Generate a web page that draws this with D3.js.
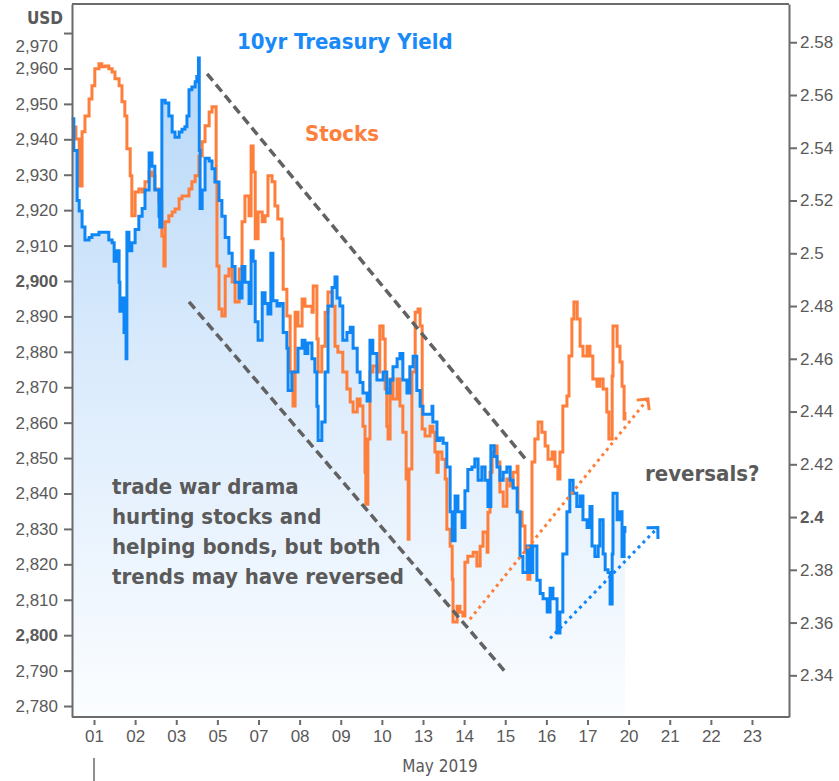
<!DOCTYPE html>
<html>
<head>
<meta charset="utf-8">
<script src="https://cdn.jsdelivr.net/npm/d3@7"></script>
<style>
  body { margin: 0; background: #fff; }
  svg { display: block; font-family: "DejaVu Sans Condensed", "DejaVu Sans", sans-serif; font-stretch: condensed; }
</style>
</head>
<body>
<div id="chart"></div>
<script>
//------------------------1. DATA-------------------------------//
// trading sessions shown on the x axis (index 0..16)
const dayLabels = ["01","02","03","05","07","08","09","10","13","14","15","16","17","20","21","22","23"];
const leftTicks = [2780,2790,2800,2810,2820,2830,2840,2850,2860,2870,2880,2890,2900,2910,2920,2930,2940,2950,2960,2970];
const rightTicks = ["2.34","2.36","2.38","2.4","2.42","2.44","2.46","2.48","2.5","2.52","2.54","2.56","2.58"];

// [session index, S&P level]
const stocks = [
  [-0.54,2943.5],[-0.44,2940.1],[-0.36,2926.8],[-0.29,2942.1],[-0.22,2946.6],[-0.12,2951.4],[-0.05,2955.1],
  [0.02,2959.9],[0.12,2961.3],[0.19,2960.5],[0.27,2960.7],[0.36,2959.9],[0.44,2959.0],[0.51,2957.1],[0.61,2955.1],
  [0.68,2950.6],[0.75,2946.6],[0.80,2937.3],[0.88,2929.7],[0.92,2918.4],[1.00,2925.1],[1.09,2926.0],[1.17,2925.1],
  [1.24,2928.0],[1.34,2930.8],[1.41,2929.7],[1.48,2926.0],[1.58,2922.3],[1.65,2912.7],[1.70,2904.2],[1.73,2916.7],
  [1.82,2918.4],[1.90,2919.5],[1.97,2920.3],[2.07,2923.2],[2.14,2924.0],[2.21,2924.0],[2.31,2926.0],[2.38,2928.0],
  [2.46,2929.7],[2.55,2935.3],[2.63,2939.3],[2.70,2943.8],[2.80,2947.7],[2.87,2949.2],[2.94,2949.2],[2.97,2928.0],
  [2.99,2904.2],[3.04,2892.1],[3.11,2890.1],[3.19,2901.4],[3.28,2903.4],[3.36,2899.7],[3.43,2894.1],[3.53,2903.4],
  [3.60,2916.7],[3.67,2924.0],[3.77,2918.4],[3.82,2938.1],[3.87,2930.8],[3.92,2911.9],[3.99,2919.5],[4.09,2916.7],
  [4.16,2918.4],[4.23,2929.7],[4.33,2928.0],[4.40,2921.2],[4.47,2917.5],[4.57,2911.9],[4.60,2897.7],[4.69,2890.1],
  [4.77,2874.3],[4.84,2864.7],[4.89,2891.2],[4.96,2887.3],[5.06,2894.9],[5.13,2892.9],[5.20,2892.9],[5.30,2891.2],
  [5.33,2898.6],[5.42,2883.6],[5.45,2874.3],[5.54,2881.6],[5.62,2891.2],[5.69,2896.9],[5.79,2892.9],[5.86,2881.6],
  [5.93,2879.9],[6.05,2874.3],[6.15,2869.5],[6.23,2865.8],[6.30,2863.0],[6.40,2866.7],[6.47,2864.7],[6.54,2859.0],
  [6.59,2846.0],[6.61,2837.0],[6.66,2855.4],[6.71,2874.3],[6.78,2876.0],[6.88,2874.3],[6.95,2887.3],[7.03,2883.6],
  [7.08,2869.5],[7.12,2859.0],[7.15,2855.4],[7.20,2872.3],[7.27,2866.7],[7.37,2872.3],[7.44,2864.7],[7.51,2857.3],
  [7.59,2844.1],[7.64,2827.1],[7.66,2846.9],[7.73,2874.3],[7.81,2891.2],[7.88,2892.1],[7.93,2887.3],[7.98,2858.2],
  [8.05,2856.2],[8.17,2859.0],[8.24,2857.3],[8.29,2851.7],[8.34,2846.0],[8.37,2851.7],[8.46,2849.7],[8.54,2844.1],
  [8.58,2829.9],[8.66,2825.1],[8.71,2815.8],[8.73,2803.7],[8.83,2808.2],[8.90,2806.5],[8.97,2805.4],[9.02,2820.6],
  [9.09,2822.3],[9.22,2823.4],[9.31,2819.5],[9.39,2825.1],[9.46,2829.1],[9.56,2823.4],[9.58,2834.7],[9.63,2846.0],
  [9.68,2851.7],[9.75,2853.4],[9.80,2848.9],[9.87,2840.4],[9.95,2836.4],[10.04,2844.1],[10.12,2842.1],[10.19,2846.0],
  [10.29,2847.7],[10.31,2834.7],[10.41,2830.8],[10.48,2823.4],[10.55,2815.8],[10.60,2825.1],[10.65,2848.9],[10.72,2855.4],
  [10.80,2860.2],[10.89,2857.3],[10.97,2853.4],[11.04,2849.7],[11.14,2851.7],[11.21,2847.7],[11.28,2844.1],[11.33,2851.7],
  [11.40,2864.7],[11.50,2867.5],[11.55,2878.8],[11.62,2889.3],[11.67,2894.1],[11.75,2889.3],[11.82,2881.6],[11.89,2878.8],
  [11.99,2881.6],[12.06,2878.8],[12.13,2872.3],[12.23,2870.3],[12.30,2872.3],[12.38,2869.5],[12.47,2863.0],[12.52,2855.4],
  [12.60,2873.2],[12.62,2887.3],[12.72,2881.6],[12.79,2877.1],[12.84,2870.3],[12.89,2861.0],[12.91,2863.0]
];

// [session index, 10yr yield %]
const yields = [
  [-0.54,2.551],[-0.49,2.539],[-0.41,2.520],[-0.36,2.516],[-0.29,2.510],[-0.22,2.505],[-0.12,2.506],[-0.05,2.507],
  [0.12,2.508],[0.27,2.508],[0.36,2.505],[0.44,2.504],[0.49,2.497],[0.56,2.501],[0.61,2.489],[0.63,2.478],
  [0.68,2.483],[0.73,2.470],[0.78,2.460],[0.80,2.508],[0.85,2.501],[0.92,2.504],[1.00,2.509],[1.09,2.514],
  [1.17,2.517],[1.24,2.524],[1.34,2.538],[1.41,2.533],[1.48,2.524],[1.58,2.514],[1.60,2.510],[1.65,2.558],
  [1.73,2.557],[1.82,2.552],[1.90,2.546],[1.97,2.544],[2.07,2.546],[2.14,2.547],[2.21,2.548],[2.26,2.552],
  [2.31,2.562],[2.38,2.563],[2.46,2.565],[2.50,2.567],[2.54,2.574],[2.56,2.539],[2.58,2.517],[2.63,2.524],
  [2.70,2.536],[2.80,2.535],[2.87,2.532],[2.94,2.527],[3.04,2.520],[3.11,2.514],[3.19,2.506],[3.28,2.500],
  [3.36,2.495],[3.43,2.489],[3.53,2.483],[3.60,2.495],[3.67,2.489],[3.77,2.481],[3.82,2.501],[3.87,2.497],
  [3.92,2.474],[3.99,2.467],[4.09,2.485],[4.16,2.481],[4.23,2.477],[4.30,2.500],[4.35,2.482],[4.45,2.480],
  [4.52,2.481],[4.60,2.470],[4.69,2.464],[4.72,2.448],[4.81,2.455],[4.89,2.455],[4.96,2.464],[5.06,2.467],
  [5.13,2.462],[5.20,2.466],[5.30,2.460],[5.37,2.455],[5.42,2.442],[5.45,2.429],[5.54,2.436],[5.62,2.455],
  [5.69,2.480],[5.79,2.487],[5.86,2.491],[5.91,2.483],[5.98,2.480],[6.05,2.467],[6.15,2.470],[6.23,2.472],
  [6.30,2.464],[6.40,2.455],[6.47,2.451],[6.54,2.447],[6.64,2.444],[6.71,2.467],[6.78,2.462],[6.88,2.452],
  [6.95,2.452],[7.03,2.455],[7.12,2.447],[7.20,2.452],[7.27,2.457],[7.37,2.460],[7.44,2.462],[7.51,2.452],
  [7.61,2.447],[7.68,2.457],[7.76,2.461],[7.85,2.448],[7.93,2.442],[8.00,2.439],[8.10,2.439],[8.22,2.442],
  [8.24,2.436],[8.34,2.429],[8.41,2.430],[8.49,2.428],[8.58,2.419],[8.66,2.402],[8.71,2.391],[8.78,2.408],
  [8.85,2.402],[8.95,2.396],[9.02,2.410],[9.09,2.418],[9.19,2.419],[9.26,2.422],[9.34,2.414],[9.43,2.419],
  [9.51,2.414],[9.58,2.404],[9.65,2.427],[9.73,2.423],[9.80,2.419],[9.87,2.414],[9.95,2.417],[10.04,2.419],
  [10.12,2.414],[10.19,2.411],[10.29,2.402],[10.36,2.385],[10.43,2.379],[10.53,2.389],[10.60,2.379],[10.67,2.389],
  [10.77,2.376],[10.85,2.371],[10.92,2.369],[11.02,2.364],[11.09,2.373],[11.16,2.369],[11.26,2.356],[11.33,2.364],
  [11.40,2.386],[11.50,2.402],[11.57,2.414],[11.65,2.409],[11.74,2.404],[11.82,2.408],[11.89,2.399],[11.99,2.396],
  [12.06,2.404],[12.11,2.389],[12.18,2.385],[12.26,2.389],[12.30,2.399],[12.38,2.386],[12.43,2.380],[12.50,2.379],
  [12.55,2.367],[12.60,2.386],[12.62,2.409],[12.72,2.399],[12.79,2.402],[12.84,2.385],[12.89,2.396],[12.91,2.394]
];

// trend channel (S&P units) and reversal arrows
const channelTop = [[2.75,2958.5],[10.53,2849.2]];
const channelBottom = [[2.31,2894.1],[9.99,2789.8]];
const stockArrow = [[9.14,2804.5],[13.47,2866.7]];
const yieldArrow = [[11.09,2.354],[13.71,2.396]];

//------------------------2. PREPARATION------------------------//
const width = 839;
const height = 781;
const plot = { left: 72, right: 789, top: 4, bottom: 717 };
const blue = "#0f86f5";
const orange = "#fd7f3b";
const grey = "#5a5a5a";
const axisGrey = "#6b6b6b";

const svg = d3.select("#chart").append("svg")
    .attr("width", width)
    .attr("height", height);

const defs = svg.append("defs");
const grad = defs.append("linearGradient")
    .attr("id", "yieldFill")
    .attr("gradientUnits", "userSpaceOnUse")
    .attr("x1", 0).attr("x2", 0)
    .attr("y1", 50).attr("y2", plot.bottom);
grad.append("stop").attr("offset", "0%").attr("stop-color", "#b5d7f8");
grad.append("stop").attr("offset", "45%").attr("stop-color", "#d9eafc");
grad.append("stop").attr("offset", "100%").attr("stop-color", "#fbfdff");

function arrowMarker(id, color) {
  defs.append("marker")
      .attr("id", id)
      .attr("viewBox", "-10 -10 12 20")
      .attr("refX", 0).attr("refY", 0)
      .attr("markerWidth", 12).attr("markerHeight", 20)
      .attr("markerUnits", "userSpaceOnUse")
      .attr("orient", "auto")
    .append("path")
      .attr("d", "M-8,-8L0,0L-8,8")
      .attr("fill", "none")
      .attr("stroke", color)
      .attr("stroke-width", 3);
}
arrowMarker("arrowOrange", orange);
arrowMarker("arrowBlue", blue);

//----------------------------SCALES----------------------------//
const xScale = d3.scaleLinear().domain([-0.535, 16.9]).range([plot.left, plot.right]);
const yLeft = d3.scaleLinear().domain([2776.9, 2978.2]).range([plot.bottom, plot.top]);
const yRight = d3.scaleLinear().domain([2.3242, 2.5945]).range([plot.bottom, plot.top]);

//-------------------------3. DRAWING---------------------------//
//-----------------------------AREA-----------------------------//
svg.append("path")
    .datum(yields)
    .attr("fill", "url(#yieldFill)")
    .attr("d", d3.area()
      .curve(d3.curveStepAfter)
      .x(function(d) { return xScale(d[0]); })
      .y0(plot.bottom)
      .y1(function(d) { return yRight(d[1]); }));

//----------------------------LINES-----------------------------//
svg.append("path")
    .datum(stocks)
    .attr("fill", "none")
    .attr("stroke", orange)
    .attr("stroke-width", 3)
    .attr("d", d3.line()
      .curve(d3.curveStepAfter)
      .x(function(d) { return xScale(d[0]); })
      .y(function(d) { return yLeft(d[1]); }));

svg.append("path")
    .datum(yields)
    .attr("fill", "none")
    .attr("stroke", blue)
    .attr("stroke-width", 3)
    .attr("d", d3.line()
      .curve(d3.curveStepAfter)
      .x(function(d) { return xScale(d[0]); })
      .y(function(d) { return yRight(d[1]); }));

//-------------------------ANNOTATIONS--------------------------//
const stockLine = d3.line()
    .x(function(d) { return xScale(d[0]); })
    .y(function(d) { return yLeft(d[1]); });

[channelTop, channelBottom].forEach(function(seg) {
  svg.append("path")
      .attr("d", stockLine(seg))
      .attr("stroke", "#626262")
      .attr("stroke-width", 3.5)
      .attr("stroke-dasharray", "9,5");
});

svg.append("path")
    .attr("d", stockLine(stockArrow))
    .attr("stroke", orange)
    .attr("stroke-width", 3)
    .attr("stroke-dasharray", "3,4")
    .attr("marker-end", "url(#arrowOrange)");

svg.append("path")
    .attr("d", d3.line()
      .x(function(d) { return xScale(d[0]); })
      .y(function(d) { return yRight(d[1]); })(yieldArrow))
    .attr("stroke", blue)
    .attr("stroke-width", 3)
    .attr("stroke-dasharray", "3,4")
    .attr("marker-end", "url(#arrowBlue)");

//-----------------------------AXES-----------------------------//
const frame = svg.append("g").attr("fill", "none").attr("stroke", axisGrey).attr("stroke-width", 2);
frame.append("line").attr("x1", plot.left).attr("x2", plot.right).attr("y1", plot.top).attr("y2", plot.top);
frame.append("line").attr("x1", plot.left).attr("x2", plot.right).attr("y1", plot.bottom).attr("y2", plot.bottom);

const leftAxis = svg.append("g")
    .attr("transform", "translate(" + plot.left + ",0)")
    .call(d3.axisLeft(yLeft).tickValues(leftTicks).tickFormat(d3.format(","))
      .tickSize(8).tickSizeOuter(0).tickPadding(6));

const rightAxis = svg.append("g")
    .attr("transform", "translate(" + plot.right + ",0)")
    .call(d3.axisRight(yRight).tickValues(rightTicks.map(Number))
      .tickFormat(function(d, i) { return rightTicks[i]; }).tickSize(8).tickSizeOuter(0).tickPadding(3));

const bottomAxis = svg.append("g")
    .attr("transform", "translate(0," + (plot.bottom + 3) + ")")
    .call(d3.axisBottom(xScale).tickValues(d3.range(dayLabels.length))
      .tickFormat(function(d) { return dayLabels[d]; }).tickSize(5).tickPadding(5));
bottomAxis.select(".domain").remove();

[leftAxis, rightAxis, bottomAxis].forEach(function(g) {
  g.selectAll(".domain").attr("stroke", axisGrey).attr("stroke-width", 2);
  g.selectAll(".tick line").attr("stroke", axisGrey).attr("stroke-width", 2);
  g.selectAll(".tick text")
      .attr("fill", grey)
      .style("font-family", "inherit")
      .style("font-size", "17px");
});
leftAxis.selectAll(".tick text")
    .style("font-weight", function(d) { return (d === 2900 || d === 2800) ? "bold" : null; })
    .attr("dy", function(d) { return d === 2970 ? "1.1em" : "0.32em"; });
rightAxis.selectAll(".tick text")
    .style("font-weight", function(d) { return Math.abs(d - 2.4) < 1e-9 ? "bold" : null; });

// month marker under the first session
svg.append("line")
    .attr("x1", xScale(0)).attr("x2", xScale(0))
    .attr("y1", 758).attr("y2", height)
    .attr("stroke", axisGrey).attr("stroke-width", 1.5);

svg.append("text")
    .attr("x", 440).attr("y", 772)
    .attr("text-anchor", "middle")
    .attr("fill", grey)
    .style("font-size", "17px")
    .text("May 2019");

//-----------------------------TEXT-----------------------------//
svg.append("text")
    .attr("x", 45).attr("y", 24)
    .attr("text-anchor", "middle")
    .attr("fill", grey)
    .style("font-size", "17px").style("font-weight", "bold")
    .text("USD");

svg.append("text")
    .attr("x", 237).attr("y", 49)
    .attr("fill", "#1a8af8")
    .style("font-size", "22px").style("font-weight", "bold")
    .text("10yr Treasury Yield");

svg.append("text")
    .attr("x", 305).attr("y", 141)
    .attr("fill", orange)
    .style("font-size", "22px").style("font-weight", "bold")
    .text("Stocks");

const note = svg.append("text")
    .attr("fill", grey)
    .style("font-size", "22px").style("font-weight", "bold");
["trade war drama", "hurting stocks and", "helping bonds, but both", "trends may have reversed"]
  .forEach(function(line, i) {
    note.append("tspan").attr("x", 112).attr("y", 494 + i * 30).text(line);
  });

svg.append("text")
    .attr("x", 645).attr("y", 481)
    .attr("fill", grey)
    .style("font-size", "22px").style("font-weight", "bold")
    .text("reversals?");
</script>
</body>
</html>
